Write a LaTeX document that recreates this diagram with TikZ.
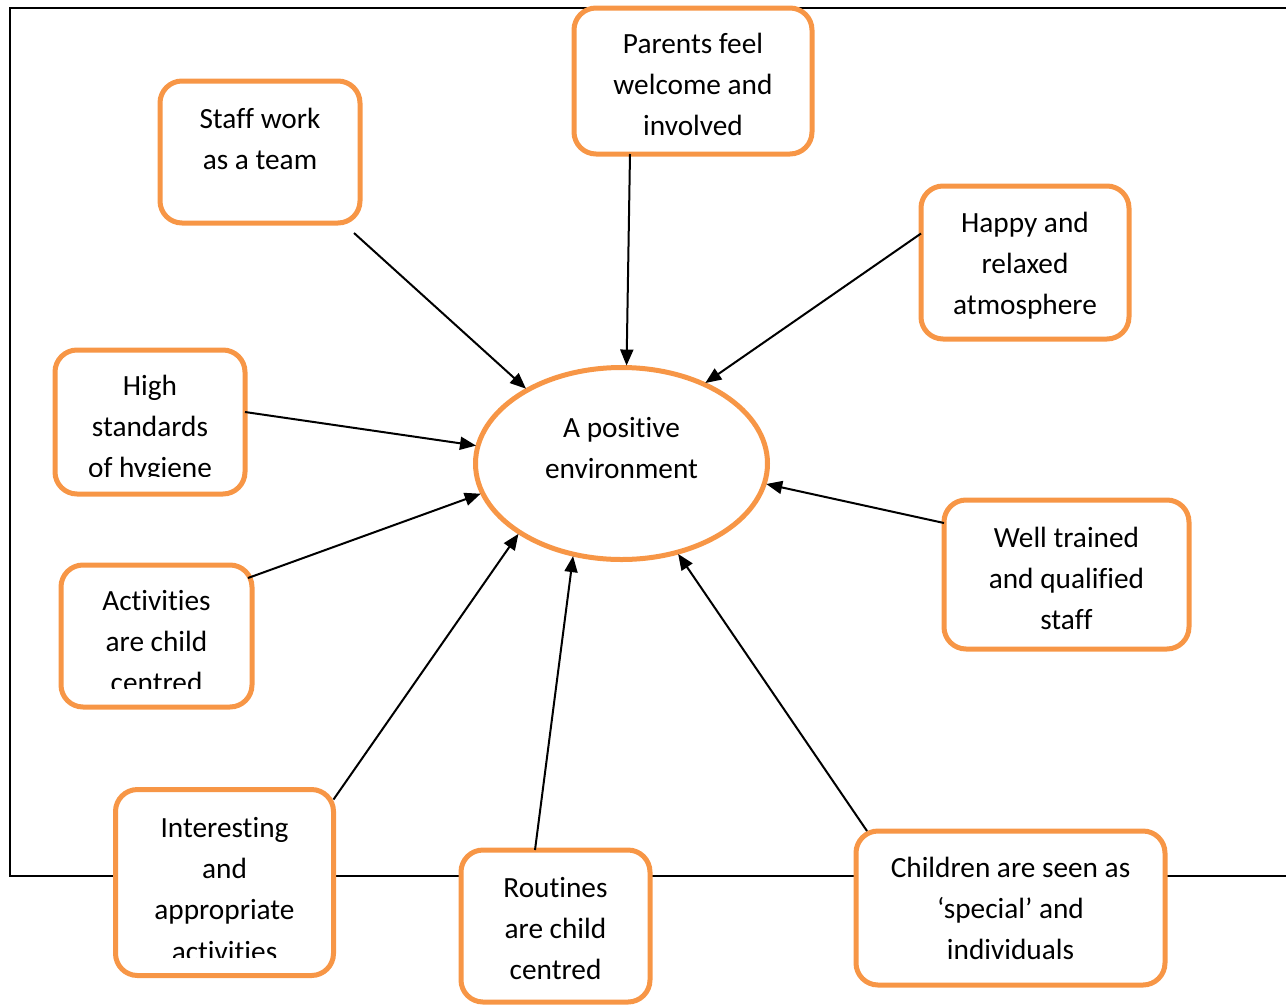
\documentclass[tikz,border=0pt]{standalone}
\usepackage{fontspec}
\setmainfont{Carlito}[Ligatures={NoCommon,NoContextual,NoRare}]
\usetikzlibrary{arrows.meta,shapes.geometric}
\definecolor{boxorange}{HTML}{F79646}
\newcommand\zk{\kern0pt{}}
\begin{document}
\begin{tikzpicture}[x=1pt,y=-1pt,
  boxshape/.style={rectangle, draw=boxorange, line width=5pt, fill=white, rounded corners=22pt, outer sep=0pt, inner sep=0pt},
  ovalshape/.style={ellipse, draw=boxorange, line width=5pt, fill=white, outer sep=0pt, inner sep=0pt},
  boxtext/.style={inner sep=0pt, align=center, anchor=north, font=\fontsize{29.3}{41.3}\selectfont},
  arr/.style={line width=2pt, -{Triangle[length=16pt,width=13pt]}, shorten >=2pt},
  frameline/.style={line width=2pt}]
\useasboundingbox (0,0) rectangle (1286,1005);
% frame
\coordinate (f1) at (1290,8);
\coordinate (f2) at (10,8);
\coordinate (f3) at (10,876);
\coordinate (f4) at (1290,876);
\draw[frameline] (f1) -- (f2) -- (f3) -- (f4);
% boxes
\node[boxshape, minimum width=200pt, minimum height=142pt] (b1) at (260,152) {};
\node[boxshape, minimum width=238pt, minimum height=146pt] (b2) at (693,81) {};
\node[boxshape, minimum width=208pt, minimum height=153pt] (b3) at (1025,262.5) {};
\node[boxshape, minimum width=190pt, minimum height=144pt] (b4) at (150,422) {};
\node[boxshape, minimum width=191pt, minimum height=142pt] (b5) at (156.5,636) {};
\node[boxshape, minimum width=245pt, minimum height=149pt] (b6) at (1066.5,574.5) {};
\node[boxshape, minimum width=218pt, minimum height=186pt] (b7) at (224.5,882.5) {};
\node[boxshape, minimum width=189pt, minimum height=152pt] (b8) at (555.5,926) {};
\node[boxshape, minimum width=309pt, minimum height=154pt] (b9) at (1010.5,908) {};
\node[ovalshape, minimum width=292pt, minimum height=192pt] (env) at (621.5,463.5) {};
% texts
\node[boxtext] (t1) at (260,99.1) {\strut Staf\zk f work\\as a team};
\node[boxtext] (t2) at (693,24.1) {\strut Parents feel\\welcome and\\involved};
\node[boxtext] (t3) at (1025,203.1) {\strut Happy and\\relaxed\\atmosphere};
\begin{scope}
\clip (55,352) rectangle (245,476.5);
\node[boxtext] (t4) at (150,366.1) {\strut High\\standards\\of hygiene};
\end{scope}
\begin{scope}
\clip (61,567) rectangle (252,688);
\node[boxtext] (t5) at (156.5,581.1) {\strut Act\zk ivit\zk ies\\are child\\centred};
\end{scope}
\node[boxtext] (t6) at (1066.5,518.1) {\strut Well trained\\and qualif\zk ied\\staf\zk f};
\begin{scope}
\clip (116,792) rectangle (333,957);
\node[boxtext] (t7) at (224.5,808.1) {\strut Interest\zk ing\\and\\appropriate\\act\zk ivit\zk ies};
\end{scope}
\node[boxtext] (t8) at (555.5,868.1) {\strut Rout\zk ines\\are child\\centred};
\node[boxtext] (t9) at (1010.5,848.1) {\strut Children are seen as\\‘special’ and\\individuals};
\node[boxtext] (t0) at (621.5,408.1) {\strut A posit\zk ive\\environment};
% arrows
\draw[arr] ([shift={(-6,10)}]b1.south east) -- (env.142.8);
\draw[arr] ([xshift=-63pt]b2.south) -- (env.87.9);
\draw[arr] ([yshift=29pt]b3.west) -- (env.44);
\draw[arr] ([yshift=10pt]b4.east) -- (env.173.9);
\draw[arr] ([shift={(-4,13)}]b5.north east) -- (env.192.2);
\draw[arr] ([shift={(0,10)}]b7.north east) -- (env.214.9);
\draw[arr] ([xshift=-20.5pt]b8.north) -- (env.242.8);
\draw[arr] ([xshift=11pt]b9.north west) -- (env.302.4);
\draw[arr] ([yshift=-23pt]b6.north west) -- (env.352);
\end{tikzpicture}
\end{document}
